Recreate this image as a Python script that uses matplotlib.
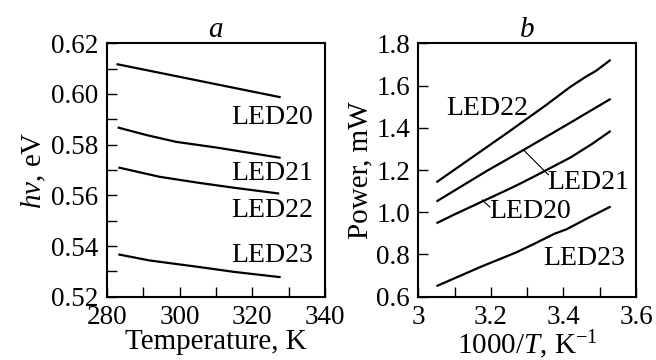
import matplotlib
matplotlib.use("Agg")
import matplotlib.pyplot as plt
from matplotlib.ticker import FixedLocator

plt.rcParams["font.family"] = ["Liberation Serif", "DejaVu Serif"]
plt.rcParams["mathtext.fontset"] = "custom"
plt.rcParams["mathtext.rm"] = "Liberation Serif"
plt.rcParams["mathtext.it"] = "Liberation Serif:italic"
plt.rcParams["mathtext.bf"] = "Liberation Serif:bold"

# Panel a: photon energy vs temperature
temp_20 = [282.7, 327.8]
hv_20 = [0.6118, 0.5987]
temp_21 = [283.0, 290.9, 299.1, 310.0, 327.8]
hv_21 = [0.5868, 0.5838, 0.5811, 0.5789, 0.5748]
temp_22 = [283.2, 294.6, 305.5, 315.0, 327.4]
hv_22 = [0.5710, 0.5673, 0.5649, 0.5630, 0.5607]
temp_23 = [283.2, 291.8, 305.0, 315.0, 327.8]
hv_23 = [0.5367, 0.5343, 0.5318, 0.5298, 0.5277]

# Panel b: optical power vs inverse temperature
inv_22 = [3.05, 3.15, 3.25, 3.35, 3.42, 3.46, 3.49, 3.53]
pw_22 = [1.142, 1.262, 1.382, 1.505, 1.595, 1.640, 1.670, 1.722]
inv_21 = [3.05, 3.19, 3.29, 3.40, 3.53]
pw_21 = [1.051, 1.197, 1.295, 1.405, 1.537]
inv_20 = [3.05, 3.10, 3.15, 3.20, 3.25, 3.28, 3.32, 3.37, 3.42, 3.48, 3.53]
pw_20 = [0.948, 0.990, 1.030, 1.070, 1.110, 1.135, 1.170, 1.215, 1.260, 1.325, 1.385]
inv_23 = [3.05, 3.174, 3.27, 3.32, 3.375, 3.408, 3.47, 3.53]
pw_23 = [0.650, 0.743, 0.810, 0.851, 0.898, 0.919, 0.975, 1.027]

names = ["LED20", "LED21", "LED22", "LED23"]

# Tick positions and labels
a_xticks = [280, 300, 320, 340]
a_xminor = [290, 310, 330]
a_yticks = [0.52, 0.54, 0.56, 0.58, 0.60, 0.62]
a_yminor = [0.53, 0.55, 0.57, 0.59, 0.61]
a_ylabels = ["0.52", "0.54", "0.56", "0.58", "0.60", "0.62"]
b_xticks = [3.0, 3.2, 3.4, 3.6]
b_xminor = [3.1, 3.3, 3.5]
b_xlabels = ["3", "3.2", "3.4", "3.6"]
b_yticks = [0.6, 0.8, 1.0, 1.2, 1.4, 1.6, 1.8]
b_ylabels = ["0.6", "0.8", "1.0", "1.2", "1.4", "1.6", "1.8"]

fig = plt.figure(figsize=(6.56, 3.6), dpi=100)
ax1 = fig.add_axes([0.1627, 0.1758, 0.3328, 0.7039])
ax2 = fig.add_axes([0.6377, 0.1758, 0.3319, 0.7039])

lw = 1.6
for x, y in [(temp_20, hv_20), (temp_21, hv_21), (temp_22, hv_22), (temp_23, hv_23)]:
    ax1.plot(x, y, color="black", lw=lw, solid_capstyle="butt")
for x, y in [(inv_22, pw_22), (inv_21, pw_21), (inv_20, pw_20), (inv_23, pw_23)]:
    ax2.plot(x, y, color="black", lw=lw, solid_capstyle="butt")

lab_fs = 20
# Curve labels, panel a
for name, ypos in zip(names, [0.5909, 0.5685, 0.5540, 0.5363]):
    ax1.text(325.4, ypos, name, ha="center", va="center", fontsize=lab_fs)

# Curve labels, panel b
ax2.text(3.19, 1.493, "LED22", ha="center", va="center", fontsize=lab_fs)
ax2.text(3.458, 0.780, "LED23", ha="center", va="center", fontsize=lab_fs)
ax2.plot([3.29, 3.358], [1.295, 1.178], color="black", lw=0.8)
ax2.text(3.355, 1.140, "LED21", ha="left", va="center", fontsize=lab_fs)
ax2.plot([3.176, 3.197], [1.058, 1.025], color="black", lw=0.8)
ax2.text(3.194, 1.003, "LED20", ha="left", va="center", fontsize=lab_fs)

# Axes setup
ax1.set_xlim(280, 340)
ax1.set_ylim(0.52, 0.62)
ax1.xaxis.set_major_locator(FixedLocator(a_xticks))
ax1.xaxis.set_minor_locator(FixedLocator(a_xminor))
ax1.yaxis.set_major_locator(FixedLocator(a_yticks))
ax1.yaxis.set_minor_locator(FixedLocator(a_yminor))
ax1.set_yticklabels(a_ylabels)

ax2.set_xlim(3.0, 3.6)
ax2.set_ylim(0.6, 1.8)
ax2.xaxis.set_major_locator(FixedLocator(b_xticks))
ax2.xaxis.set_minor_locator(FixedLocator(b_xminor))
ax2.set_xticklabels(b_xlabels)
ax2.yaxis.set_major_locator(FixedLocator(b_yticks))
ax2.set_yticklabels(b_ylabels)

for ax in (ax1, ax2):
    for s in ax.spines.values():
        s.set_linewidth(1.5)
    ax.tick_params(which="both", direction="in", length=7.5, width=1.0,
                   top=False, right=False, labelsize=19.5, pad=6)

ax1.set_xlabel("Temperature, K", fontsize=21, labelpad=-1)
ax1.set_ylabel(r"$h\nu$, eV", fontsize=21, labelpad=2)
ax2.set_xlabel(r"1000/$T$, K$^{-1}$", fontsize=21, labelpad=-1)
ax2.set_ylabel("Power, mW", fontsize=21, labelpad=2)

ax1.set_title("a", fontsize=21, style="italic", pad=2)
ax2.set_title("b", fontsize=21, style="italic", pad=2)

fig.savefig("out.png", dpi=100)
